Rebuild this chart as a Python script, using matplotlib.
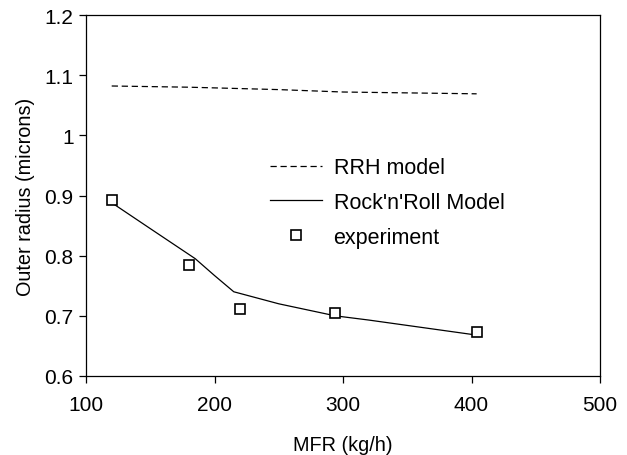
import numpy as np
from matplotlib import pyplot as plt

plt.rcParams['font.family'] = ['Liberation Sans', 'DejaVu Sans']

# RRH model
rrh_x = [120, 180, 250, 300, 404]
rrh_y = [1.082, 1.080, 1.076, 1.072, 1.069]

# Rock'n'Roll model
rnr_x = [120, 150, 185, 200, 215, 250, 294, 320, 404]
rnr_y = [0.888, 0.845, 0.795, 0.767, 0.740, 0.720, 0.700, 0.693, 0.668]

# experiment
exp_x = [120, 180, 220, 294, 404]
exp_y = [0.892, 0.785, 0.712, 0.705, 0.673]

fig = plt.figure(figsize=(6.27, 4.56), dpi=100)
ax = fig.add_axes([86/627, 1-377/456, (600-86)/627, (377-16)/456])

ax.plot(rrh_x, rrh_y, color='black', lw=0.9, ls=(0, (5, 3)), label='RRH model')
ax.plot(rnr_x, rnr_y, color='black', lw=0.9, label="Rock'n'Roll Model")
ax.plot(exp_x, exp_y, ls='none', marker='s', ms=7.5, mfc='white', mec='black',
        mew=1.2, label='experiment')

ax.set_xlim(100, 500)
ax.set_ylim(0.6, 1.2)
ax.set_xticks([100, 200, 300, 400, 500])
ax.set_yticks([0.6, 0.7, 0.8, 0.9, 1.0, 1.1, 1.2])
ax.set_yticklabels(['0.6', '0.7', '0.8', '0.9', '1', '1.1', '1.2'])
ax.tick_params(direction='out', length=5, width=0.9, labelsize=15, pad=4)
ax.tick_params(axis='x', pad=9)
ax.set_xlabel('MFR (kg/h)', fontsize=14.3, labelpad=15)
ax.set_ylabel('Outer radius (microns)', fontsize=14.3, labelpad=7)
for s in ax.spines.values():
    s.set_linewidth(0.9)

ax.legend(loc='upper left', bbox_to_anchor=(0.358, 0.606), frameon=False,
          fontsize=15.5, handlelength=2.4, handletextpad=0.55, labelspacing=0.64,
          borderpad=0, borderaxespad=0)

plt.savefig('out.png', dpi=100)
